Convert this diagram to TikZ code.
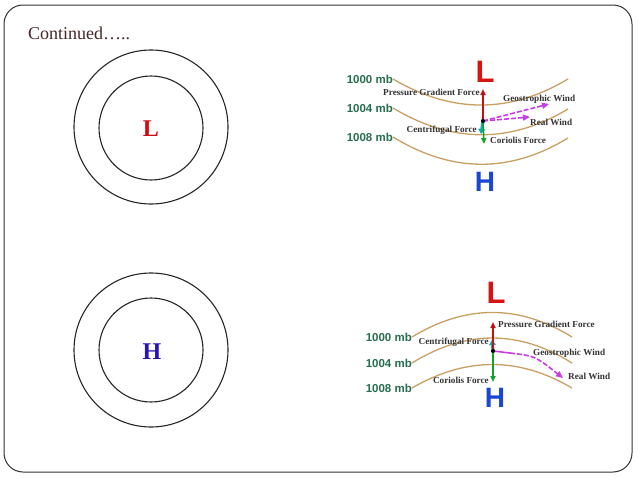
\documentclass[tikz,border=0pt]{standalone}
\usepackage{fontspec}
\setmainfont{Liberation Serif}
\newfontfamily\lsans{Liberation Sans}
\usetikzlibrary{arrows.meta}
\definecolor{isobar}{RGB}{200,160,100}
\definecolor{mbgreen}{RGB}{40,110,80}
\definecolor{lred}{RGB}{215,20,20}
\definecolor{hblue}{RGB}{25,70,210}
\definecolor{cl}{RGB}{210,10,20}
\definecolor{ch}{RGB}{40,20,180}
\definecolor{tealc}{RGB}{20,170,170}
\definecolor{greenc}{RGB}{20,160,40}
\definecolor{magc}{RGB}{200,60,230}
\definecolor{titlec}{RGB}{70,40,40}
\tikzset{
  ring/.style={draw=black!85, line width=1.1pt},
  isoline/.style={draw=isobar, line width=1.3pt},
  mblabel/.style={font=\lsans\bfseries\fontsize{11.5}{12}\selectfont, text=mbgreen, inner sep=0pt},
  forcelabel/.style={font=\bfseries\fontsize{9.2}{10}\selectfont, text=black!80, inner sep=0pt},
  bigL/.style={font=\lsans\bfseries\fontsize{31}{31}\selectfont, text=lred, inner sep=0pt},
  bigH/.style={font=\lsans\bfseries\fontsize{28}{28}\selectfont, text=hblue, inner sep=0pt},
  farrow/.style={line width=1.5pt, -{Triangle[length=6pt,width=5pt]}},
  windarrow/.style={draw=magc, line width=1.6pt, dashed, dash pattern=on 5pt off 2pt, -{Triangle[length=7pt,width=6pt]}},
  dotnode/.style={circle, fill=black, inner sep=0pt, minimum size=4pt}
}
\begin{document}
\begin{tikzpicture}[x=1pt,y=-1pt]
\useasboundingbox (0,0) rectangle (638,479);
\fill[white] (0,0) rectangle (638,479);
\draw[black!80, line width=1pt, rounded corners=19pt] (4,5) rectangle (632,472);
\node[font=\fontsize{18}{20}\selectfont, text=titlec, anchor=west, inner sep=0pt] (title) at (28,33) {Continued…..};

% left circles
\draw[ring] (151,127) circle (77);
\draw[ring] (151,128) circle (52);
\node[font=\bfseries\fontsize{24}{24}\selectfont, text=cl, inner sep=0pt] (Lc) at (151,129) {L};
\draw[ring] (151,350) circle (77);
\draw[ring] (151,350) circle (52);
\node[font=\bfseries\fontsize{24}{24}\selectfont, text=ch, inner sep=0pt] (Hc) at (152,352) {H};

% ---------- top right diagram (low) ----------
\node[mblabel, anchor=east] (t1000) at (393,79) {1000 mb};
\node[mblabel, anchor=east] (t1004) at (393,108) {1004 mb};
\node[mblabel, anchor=east] (t1008) at (393,137) {1008 mb};
\draw[isoline] (t1000.east) .. controls (452,113.7) and (510,113.7) .. (568,79);
\draw[isoline] (t1004.east) .. controls (452,143.3) and (510,143.7) .. (568,109);
\draw[isoline] (t1008.east) .. controls (452,173) and (510,173.3) .. (568,138);
\node[bigL] (tL) at (485,72) {L};
\node[bigH] (tH) at (485,182) {H};
\coordinate (tPG) at (483,89);
\coordinate (tCo) at (484,144);
\coordinate (tCe) at (481,134);
\coordinate (tGW) at (549,104);
\coordinate (tRW) at (530,117);
\node[dotnode] (tdot) at (483,121) {};
\draw[windarrow] (tdot.center) -- (tGW);
\draw[windarrow] (tdot.center) -- (tRW);
\draw[farrow, draw=tealc, line width=3pt, -{Triangle[length=5pt,width=7pt]}] (tdot.center) -- (tCe);
\draw[farrow, draw=greenc] (tdot.center) -- (tCo);
\draw[farrow, draw=lred!90!black] (tdot.center) -- (tPG);
\node[dotnode] at (tdot) {};
\node[forcelabel, anchor=east] (tPGl) at (480,92) {Pressure Gradient Force};
\node[forcelabel, anchor=west] (tGWl) at (503,99) {Geostrophic Wind};
\node[forcelabel, anchor=west] (tRWl) at (530,122) {Real Wind};
\node[forcelabel, anchor=east] (tCel) at (477,130) {Centrifugal Force};
\node[forcelabel, anchor=west] (tCol) at (490,140) {Coriolis Force};

% ---------- bottom right diagram (high) ----------
\node[mblabel, anchor=east] (b1000) at (412,337) {1000 mb};
\node[mblabel, anchor=east] (b1004) at (412,363) {1004 mb};
\node[mblabel, anchor=east] (b1008) at (412,388) {1008 mb};
\draw[isoline] (b1000.east) .. controls (466,304.3) and (519,304.3) .. (572,337);
\draw[isoline] (b1004.east) .. controls (466,329.7) and (519,329.7) .. (572,363);
\draw[isoline] (b1008.east) .. controls (466,356.7) and (519,356.7) .. (572,388);
\node[bigL] (bL) at (496,293) {L};
\node[bigH] (bH) at (495,398) {H};
\coordinate (bPG) at (493,322);
\coordinate (bCo) at (493,382);
\coordinate (bCe) at (492,340);
\coordinate (bRW) at (563,378);
\coordinate (bWs) at (510,353);
\node[dotnode] (bdot) at (493,351) {};
\draw[draw=magc, line width=1.6pt] (bdot.center) -- (bWs);
\draw[windarrow] (bWs) .. controls (535,356) .. (bRW);
\draw[farrow, draw=tealc, line width=3pt, -{Triangle[length=5pt,width=7pt]}] (bdot.center) -- (bCe);
\draw[farrow, draw=greenc] (bdot.center) -- (bCo);
\draw[farrow, draw=lred!90!black] (bdot.center) -- (bPG);
\node[dotnode] at (bdot) {};
\node[forcelabel, anchor=west] (bPGl) at (498,324) {Pressure Gradient Force};
\node[forcelabel, anchor=west] (bGWl) at (533,353) {Geostrophic Wind};
\node[forcelabel, anchor=west] (bRWl) at (568,376) {Real Wind};
\node[forcelabel, anchor=east] (bCel) at (489,342) {Centrifugal Force};
\node[forcelabel, anchor=east] (bCol) at (489,380) {Coriolis Force};
\end{tikzpicture}
\end{document}
